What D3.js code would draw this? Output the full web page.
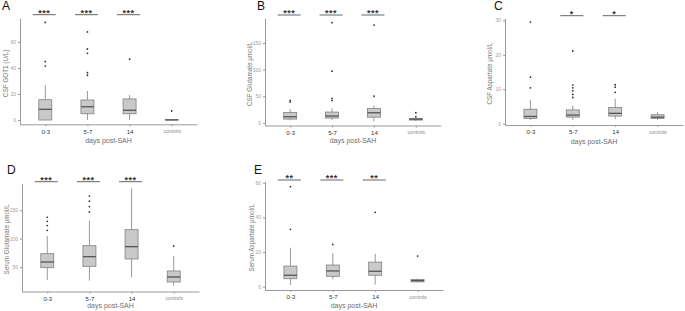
<!DOCTYPE html>
<html>
<head>
<meta charset="utf-8">
<script src="https://cdn.jsdelivr.net/npm/d3@7"></script>
<style>
  body { margin: 0; background: #fff; }
</style>
</head>
<body>
<div id="chart"></div>
<script>
// categories shared by all panels
const categories = ['0-3', '5-7', '14', 'controls'];

// box stats per category: [whisker low, q1, median, q3, whisker high]
const gotStats = [[0, 0, 8.2, 15.6, 27], [0, 4.8, 10.2, 15.4, 22.3], [0, 4.8, 7.5, 16.2, 19.2], [0, 0, 0.1, 0.2, 0.2]];
const gotOutliers = [[75, 45, 41.5], [67.7, 54.6, 51.3, 36.4, 34.4], [46.7], [7]];
const gotStars = ['***', '***', '***', ''];
const gotTicks = [0, 20, 40, 60];

const csfGluStats = [[4.7, 7.1, 11.5, 19.7, 26], [5, 9, 12.8, 20.3, 27], [3, 10.7, 19, 27, 33], [3, 5.3, 7, 8.4, 9]];
const csfGluOutliers = [[42, 39], [188, 97, 46, 42], [183.5, 50], [19, 11.5]];
const csfGluStars = ['***', '***', '***', ''];
const csfGluTicks = [0, 50, 100, 150];

const csfAspStats = [[1.1, 1.5, 2.1, 4.2, 6.9], [1.1, 1.9, 2.5, 4.0, 5.3], [1.3, 2.2, 3.0, 4.7, 7.2], [1.1, 1.5, 1.9, 2.6, 3.4]];
const csfAspOutliers = [[29.5, 13.5, 10.4], [21.1, 11.2, 10.4, 9.6, 8.5, 7.6], [11.3, 10.6, 9.1], []];
const csfAspStars = ['', '*', '*', ''];
const csfAspTicks = [0, 10, 20, 30];

const serGluStats = [[27, 48.7, 58.7, 73.4, 104.6], [25.8, 51.1, 68.1, 87.5, 131.6], [31.7, 64, 85.8, 115.7, 188.7], [17, 23.5, 32.3, 42.9, 69.3]];
const serGluOutliers = [[137.5, 130.5, 123, 114.5], [175, 166, 156.5, 147], [], [87]];
const serGluStars = ['***', '***', '***', ''];
const serGluTicks = [50, 100, 150];

const serAspStats = [[1, 4.6, 6.6, 11.9, 22.5], [4.2, 6, 9.1, 12.5, 19.4], [1.2, 6.6, 8.9, 14.2, 19], [2.4, 2.8, 3.5, 4.2, 4.8]];
const serAspOutliers = [[57.7, 33.1], [24.4], [42.9], [17.7]];
const serAspStars = ['**', '***', '**', ''];
const serAspTicks = [0, 20, 40, 60];

// Constant
const width = 685;
const height = 311;
const fontFamily = 'Arial, "Liberation Sans", Helvetica, sans-serif';
const axisColor = '#9a9a9a';
const boxFill = '#c9c9c9';
const boxStroke = '#808080';
const boxWidth = 13;

const panels = [
    {label: 'A', lx: 2, ly: 10, left: 20, right: 197, top: 18.3, bottom: 124.3, domain: [-3.3, 78.2],
     yTitle: 'CSF GOT1 (U/L)', tx: 6, xTitleY: 143, barY: 14.7,
     stats: gotStats, outliers: gotOutliers, stars: gotStars, ticks: gotTicks},
    {label: 'B', lx: 257, ly: 10, left: 265, right: 441, top: 18.3, bottom: 125.5, domain: [-4.9, 196.2],
     yTitle: 'CSF Glutamate \u00b5mol/L', tx: 250, xTitleY: 143, barY: 15,
     stats: csfGluStats, outliers: csfGluOutliers, stars: csfGluStars, ticks: csfGluTicks},
    {label: 'C', lx: 494, ly: 10, left: 505, right: 683, top: 18.3, bottom: 125, domain: [-0.38, 30.6],
     yTitle: 'CSF Aspartate \u00b5mol/L', tx: 490, xTitleY: 144, barY: 15.7,
     stats: csfAspStats, outliers: csfAspOutliers, stars: csfAspStars, ticks: csfAspTicks},
    {label: 'D', lx: 7, ly: 174, left: 22, right: 199, top: 183.3, bottom: 291.5, domain: [6.7, 197.5],
     yTitle: 'Serum Glutamate \u00b5mol/L', tx: 7, xTitleY: 308, barY: 181.7,
     stats: serGluStats, outliers: serGluOutliers, stars: serGluStars, ticks: serGluTicks},
    {label: 'E', lx: 254, ly: 174, left: 265, right: 443, top: 181.5, bottom: 290, domain: [-1.9, 60.7],
     yTitle: 'Serum Aspartate \u00b5mol/L', tx: 252, xTitleY: 308, barY: 180,
     stats: serAspStats, outliers: serAspOutliers, stars: serAspStars, ticks: serAspTicks}
];

const svg = d3.select('#chart')
    .append('svg')
        .attr('width', width)
        .attr('height', height)
        .style('font-family', fontFamily);

const drawPanel = (p) => {
    const g = svg.append('g');

    const xScale = d3.scalePoint()
        .domain(categories)
        .range([p.left, p.right])
        .padding(0.6);
    const yScale = d3.scaleLinear()
        .domain(p.domain)
        .range([p.bottom, p.top]);

    // panel letter
    g.append('text')
        .attr('x', p.lx)
        .attr('y', p.ly)
        .style('font-size', '12px')
        .attr('fill', '#111')
        .text(p.label);

    // y axis
    const yAxis = g.append('g')
        .attr('transform', `translate(${p.left},0)`)
        .call(d3.axisLeft(yScale).tickValues(p.ticks).tickSize(2).tickPadding(2).tickSizeOuter(0));
    yAxis.select('.domain').attr('stroke', axisColor);
    yAxis.selectAll('.tick line').attr('stroke', axisColor);
    yAxis.selectAll('.tick text')
        .attr('fill', '#a0a0a0')
        .style('font-size', '5px')
        .style('font-family', fontFamily);

    // x axis
    const xAxis = g.append('g')
        .attr('transform', `translate(0,${p.bottom})`)
        .call(d3.axisBottom(xScale).tickSize(2).tickPadding(3).tickSizeOuter(0));
    xAxis.select('.domain').attr('stroke', axisColor);
    xAxis.selectAll('.tick line').attr('stroke', axisColor);
    xAxis.selectAll('.tick text')
        .attr('fill', d => d === 'controls' ? '#8a8a8a' : '#333')
        .style('font-size', d => d === 'controls' ? '5px' : '6px')
        .style('font-family', fontFamily);

    // axis titles
    g.append('text')
        .attr('x', (p.left + p.right) / 2)
        .attr('y', p.xTitleY)
        .attr('text-anchor', 'middle')
        .style('font-size', '7px')
        .attr('fill', '#6e6e6e')
        .text('days post-SAH');

    g.append('text')
        .attr('transform', `translate(${p.tx},${(p.top + p.bottom) / 2 + 2}) rotate(-90)`)
        .attr('text-anchor', 'middle')
        .attr('dy', 2)
        .style('font-size', '6.3px')
        .attr('fill', '#777')
        .text(p.yTitle);

    const rows = categories.map((c, i) => ({cat: c, s: p.stats[i], out: p.outliers[i], star: p.stars[i]}));

    // whiskers
    g.selectAll('.whisker')
        .data(rows)
        .enter()
        .append('line')
        .attr('class', 'whisker')
        .attr('x1', d => xScale(d.cat))
        .attr('x2', d => xScale(d.cat))
        .attr('y1', d => yScale(d.s[0]))
        .attr('y2', d => yScale(d.s[4]))
        .attr('stroke', boxStroke)
        .attr('stroke-width', 0.8);

    // boxes
    g.selectAll('.box')
        .data(rows)
        .enter()
        .append('rect')
        .attr('class', 'box')
        .attr('x', d => xScale(d.cat) - boxWidth / 2)
        .attr('y', d => yScale(d.s[3]))
        .attr('width', boxWidth)
        .attr('height', d => Math.max(0.1, yScale(d.s[1]) - yScale(d.s[3])))
        .attr('fill', boxFill)
        .attr('stroke', boxStroke)
        .attr('stroke-width', 0.8);

    // medians
    g.selectAll('.median')
        .data(rows)
        .enter()
        .append('line')
        .attr('class', 'median')
        .attr('x1', d => xScale(d.cat) - boxWidth / 2)
        .attr('x2', d => xScale(d.cat) + boxWidth / 2)
        .attr('y1', d => yScale(d.s[2]))
        .attr('y2', d => yScale(d.s[2]))
        .attr('stroke', '#555')
        .attr('stroke-width', 1.3);

    // outliers
    const pts = rows.flatMap(d => d.out.map(v => ({cat: d.cat, v: v})));
    g.selectAll('.outlier')
        .data(pts)
        .enter()
        .append('circle')
        .attr('class', 'outlier')
        .attr('cx', d => xScale(d.cat))
        .attr('cy', d => yScale(d.v))
        .attr('r', 0.9)
        .attr('fill', '#333');

    // significance bars
    const sig = rows.filter(d => d.star !== '');
    g.selectAll('.sigbar')
        .data(sig)
        .enter()
        .append('line')
        .attr('class', 'sigbar')
        .attr('x1', d => xScale(d.cat) - 12.5)
        .attr('x2', d => xScale(d.cat) + 10.5)
        .attr('y1', p.barY)
        .attr('y2', p.barY)
        .attr('stroke', '#555')
        .attr('stroke-width', 0.9);

    g.selectAll('.stars')
        .data(sig)
        .enter()
        .append('text')
        .attr('class', 'stars')
        .attr('x', d => xScale(d.cat) - 1)
        .attr('y', p.barY + 1.2)
        .attr('text-anchor', 'middle')
        .style('font-size', '9px')
        .style('font-weight', 'bold')
        .style('letter-spacing', '0.5px')
        .attr('fill', '#333')
        .text(d => d.star);
};

panels.forEach(drawPanel);
</script>
</body>
</html>
